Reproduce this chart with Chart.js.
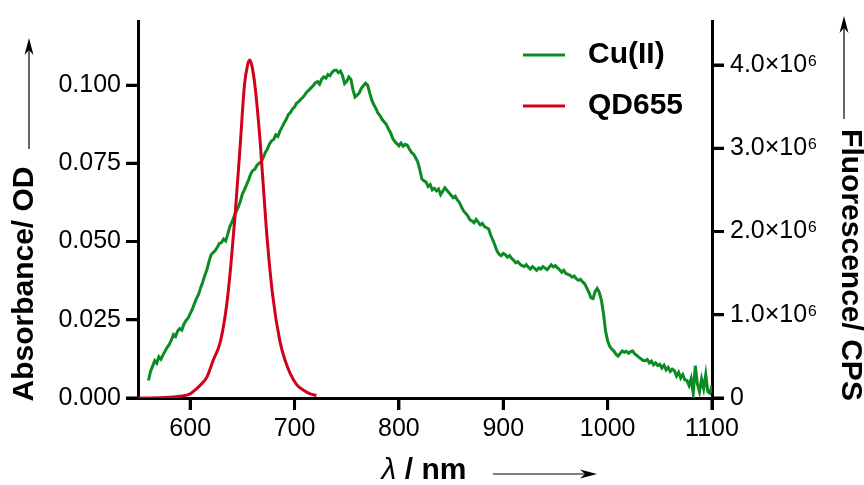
<!DOCTYPE html>
<html>
<head>
<meta charset="utf-8">
<script src="https://cdn.jsdelivr.net/npm/chart.js@4"></script>
<style>
  body { margin: 0; background: #fff; }
  canvas { display: block; }
</style>
</head>
<body>
<canvas id="chart" width="864" height="485"></canvas>
<script>
// Cu(II) absorbance spectrum (left axis)
const cuNm = [
  560,562,564,566,568,570,572,574,576,578,580,582,584,586,588,590,592,594,596,598,
  600,602,604,606,608,610,612,614,616,618,620,622,624,626,628,630,632,634,636,638,
  640,642,644,646,648,650,652,654,656,658,660,662,664,666,668,670,672,674,676,678,
  680,682,684,686,688,690,692,694,696,698,700,702,704,706,708,710,712,714,716,718,
  720,722,724,726,728,730,732,734,736,738,740,742,744,746,748,750,752,754,756,758,
  760,762,764,766,768,770,772,774,776,778,780,782,784,786,788,790,792,794,796,798,
  800,802,804,806,808,810,812,814,816,818,820,822,824,826,828,830,832,834,836,838,
  840,842,844,846,848,850,852,854,856,858,860,862,864,866,868,870,872,874,876,878,
  880,882,884,886,888,890,892,894,896,898,900,902,904,906,908,910,912,914,916,918,
  920,922,924,926,928,930,932,934,936,938,940,942,944,946,948,950,952,954,956,958,
  960,962,964,966,968,970,972,974,976,978,980,982,984,986,988,990,992,994,996,998,
  1000,1002,1004,1006,1008,1010,1012,1014,1016,1018,1020,1022,1024,1026,1028,1030,1032,1034,1036,1038,
  1040,1042,1044,1046,1048,1050,1052,1054,1056,1058,1060,1062,1064,1066,1068,1070,1072,1074,1076,1078,
  1080,1082,1084,1086,1088,1090,1092,1094,1096,1098,1100
];
const cuAbs = [
  .0056,.0085,.0102,.0119,.0111,.0132,.0124,.0138,.0150,.0162,.0171,.0186,.0203,.0197,.0214,.0222,.0217,.0236,.0248,.0255,
  .0270,.0283,.0301,.0318,.0331,.0352,.0370,.0392,.0410,.0436,.0458,.0465,.0471,.0482,.0494,.0497,.0508,.0502,.0523,.0548,
  .0562,.0580,.0595,.0610,.0628,.0652,.0666,.0681,.0697,.0716,.0727,.0731,.0744,.0750,.0755,.0768,.0785,.0796,.0812,.0822,
  .0826,.0841,.0836,.0853,.0866,.0879,.0890,.0906,.0912,.0924,.0930,.0943,.0947,.0955,.0961,.0970,.0979,.0985,.0992,.0999,
  .1008,.1011,.1003,.1019,.1026,.1022,.1034,.1030,.1041,.1047,.1048,.1040,.1045,.1030,.1005,.1012,.1026,.1018,.0985,.0962,
  .0968,.0975,.0990,.0998,.1006,.1000,.0975,.0952,.0937,.0925,.0910,.0902,.0890,.0882,.0874,.0860,.0848,.0830,.0820,.0813,
  .0806,.0815,.0805,.0811,.0808,.0796,.0785,.0780,.0768,.0755,.0730,.0700,.0694,.0690,.0676,.0682,.0665,.0670,.0662,.0668,
  .0650,.0661,.0672,.0664,.0656,.0648,.0640,.0645,.0633,.0625,.0610,.0598,.0590,.0582,.0570,.0566,.0560,.0571,.0562,.0553,
  .0558,.0548,.0544,.0540,.0520,.0505,.0488,.0470,.0460,.0455,.0462,.0458,.0450,.0455,.0446,.0440,.0432,.0436,.0428,.0423,
  .0420,.0426,.0418,.0412,.0420,.0414,.0408,.0416,.0412,.0420,.0415,.0410,.0418,.0426,.0419,.0423,.0416,.0410,.0402,.0408,
  .0398,.0395,.0392,.0386,.0390,.0381,.0376,.0379,.0371,.0365,.0352,.0338,.0320,.0318,.0340,.0350,.0338,.0313,.0270,.0215,
  .0182,.0165,.0156,.0150,.0140,.0134,.0142,.0150,.0146,.0149,.0143,.0148,.0150,.0141,.0136,.0130,.0125,.0120,.0119,.0123,
  .0112,.0118,.0106,.0112,.0104,.0108,.0096,.0105,.0090,.0098,.0085,.0092,.0087,.0070,.0082,.0064,.0075,.0058,.0056,.0040,
  .0062,.0015,.0103,.0045,.0020,.0060,.0030,.0075,.0020,.0015,.0040
];

// QD655 emission (right axis, in units of 10^6 CPS)
const qdNm = [550,560,570,580,590,600,606,611,616,622,629,635,639,643,648,652,655,657,659,662,667,673,679,686,691,696,702,709,715,721];
const qdCps = [0,0.001,0.003,0.008,0.02,0.05,0.11,0.17,0.25,0.45,0.68,1.12,1.6,2.19,3.05,3.76,4.0,4.06,4.0,3.76,3.09,2.03,1.24,0.68,0.45,0.29,0.16,0.09,0.05,0.03];

const seriesNames = ['Cu(II)', 'QD655'];
const xTicks = [600, 700, 800, 900, 1000, 1100];
const absTicks = [0, 0.025, 0.05, 0.075, 0.1];
const cpsTicks = [0, 1, 2, 3, 4];
const leftTitle = 'Absorbance/ OD';
const rightTitle = 'Fluorescence/ CPS';

const FONT = '"Liberation Sans", Arial, sans-serif';
const tickFont = { family: FONT, size: 25 };
const TICK_LEN = 12;

function arrow(ctx, x1, y1, x2, y2) {
  const a = Math.atan2(y2 - y1, x2 - x1);
  const c = Math.cos(a), s = Math.sin(a);
  ctx.lineWidth = 1.2;
  ctx.beginPath();
  ctx.moveTo(x1, y1);
  ctx.lineTo(x2 - 8 * c, y2 - 8 * s);
  ctx.stroke();
  ctx.beginPath();
  ctx.moveTo(x2, y2);
  ctx.lineTo(x2 - 17 * c + 4.5 * s, y2 - 17 * s - 4.5 * c);
  ctx.lineTo(x2 - 12 * c, y2 - 12 * s);
  ctx.lineTo(x2 - 17 * c - 4.5 * s, y2 - 17 * s + 4.5 * c);
  ctx.closePath();
  ctx.fill();
}

// tick marks, axis titles, arrows and legend
const extras = {
  id: 'extras',
  afterDraw(chart) {
    const ctx = chart.ctx;
    const area = chart.chartArea;
    ctx.save();
    ctx.fillStyle = '#000';
    ctx.strokeStyle = '#000';

    // tick marks
    ctx.lineWidth = 3;
    ctx.beginPath();
    chart.scales.x.ticks.forEach(t => {
      const px = chart.scales.x.getPixelForValue(t.value);
      ctx.moveTo(px, area.bottom);
      ctx.lineTo(px, area.bottom + TICK_LEN);
    });
    chart.scales.y.ticks.forEach(t => {
      const py = chart.scales.y.getPixelForValue(t.value);
      ctx.moveTo(area.left - TICK_LEN, py);
      ctx.lineTo(area.left, py);
    });
    chart.scales.y2.ticks.forEach(t => {
      const py = chart.scales.y2.getPixelForValue(t.value);
      ctx.moveTo(area.right, py);
      ctx.lineTo(area.right + TICK_LEN, py);
    });
    ctx.stroke();

    ctx.font = 'bold 30px ' + FONT;
    ctx.textAlign = 'center';
    ctx.textBaseline = 'middle';

    ctx.save();
    ctx.translate(25, 284);
    ctx.rotate(-Math.PI / 2);
    ctx.fillText(leftTitle, 0, 0);
    ctx.restore();
    arrow(ctx, 29, 149, 29, 38);

    ctx.save();
    ctx.translate(850, 265);
    ctx.rotate(Math.PI / 2);
    ctx.fillText(rightTitle, 0, 0);
    ctx.restore();
    arrow(ctx, 844, 119, 844, 16);

    // x title: italic lambda + " / nm"
    ctx.textAlign = 'left';
    const lamFont = 'italic 30px ' + FONT;
    const restFont = 'bold 30px ' + FONT;
    ctx.font = lamFont;
    const wl = ctx.measureText('λ').width;
    ctx.font = restFont;
    const wr = ctx.measureText(' / nm').width;
    const x0 = 424 - (wl + wr) / 2;
    ctx.font = lamFont;
    ctx.fillText('λ', x0, 471);
    ctx.font = restFont;
    ctx.fillText(' / nm', x0 + wl, 471);
    arrow(ctx, 493, 474, 597, 474);

    // legend
    chart.data.datasets.forEach((ds, i) => {
      const y = 55 + i * 51;
      ctx.strokeStyle = ds.borderColor;
      ctx.lineWidth = 3;
      ctx.beginPath();
      ctx.moveTo(523, y);
      ctx.lineTo(565, y);
      ctx.stroke();
      ctx.fillStyle = '#000';
      ctx.font = 'bold 30px ' + FONT;
      ctx.fillText(ds.label, 588, y);
    });
    ctx.restore();
  }
};

const axisGrid = { drawOnChartArea: false, drawTicks: true, tickLength: TICK_LEN, color: '#000', lineWidth: 3 };
const axisBorder = { display: true, color: '#000', width: 3 };
const setTicks = vals => s => { s.ticks = vals.map(v => ({ value: v })); };

new Chart(document.getElementById('chart'), {
  type: 'line',
  data: {
    datasets: [{
      label: seriesNames[0],
      data: cuNm.map((x, i) => ({ x: x, y: cuAbs[i] })),
      borderColor: '#0b8c23',
      borderWidth: 3,
      pointRadius: 0,
      tension: 0,
      yAxisID: 'y',
      order: 1
    }, {
      label: seriesNames[1],
      data: qdNm.map((x, i) => ({ x: x, y: qdCps[i] })),
      borderColor: '#d0021b',
      borderWidth: 3,
      pointRadius: 0,
      cubicInterpolationMode: 'monotone',
      yAxisID: 'y2',
      order: 0
    }]
  },
  options: {
    responsive: false,
    animation: false,
    devicePixelRatio: 1,
    layout: { padding: { top: 15, left: 0, right: 0, bottom: 0 } },
    plugins: { legend: { display: false }, tooltip: { enabled: false } },
    scales: {
      x: {
        type: 'linear',
        min: 550,
        max: 1100,
        afterBuildTicks: setTicks(xTicks),
        afterFit: s => { s.height = 87; },
        ticks: { autoSkip: false, maxRotation: 0, padding: 4, color: '#000', font: tickFont, callback: v => String(v) },
        grid: axisGrid,
        border: axisBorder
      },
      y: {
        position: 'left',
        min: 0,
        max: 0.1205,
        afterBuildTicks: setTicks(absTicks),
        afterFit: s => { s.width = 138; },
        ticks: { autoSkip: false, padding: 5, color: '#000', font: tickFont, callback: v => v.toFixed(3) },
        grid: axisGrid,
        border: axisBorder
      },
      y2: {
        position: 'right',
        min: 0,
        max: 4.53,
        afterBuildTicks: setTicks(cpsTicks),
        afterFit: s => { s.width = 152; },
        ticks: { autoSkip: false, padding: 6, color: '#000', font: tickFont, callback: v => v === 0 ? '0' : v.toFixed(1) + '×10⁶' },
        grid: axisGrid,
        border: axisBorder
      }
    }
  },
  plugins: [extras]
});
</script>
</body>
</html>
